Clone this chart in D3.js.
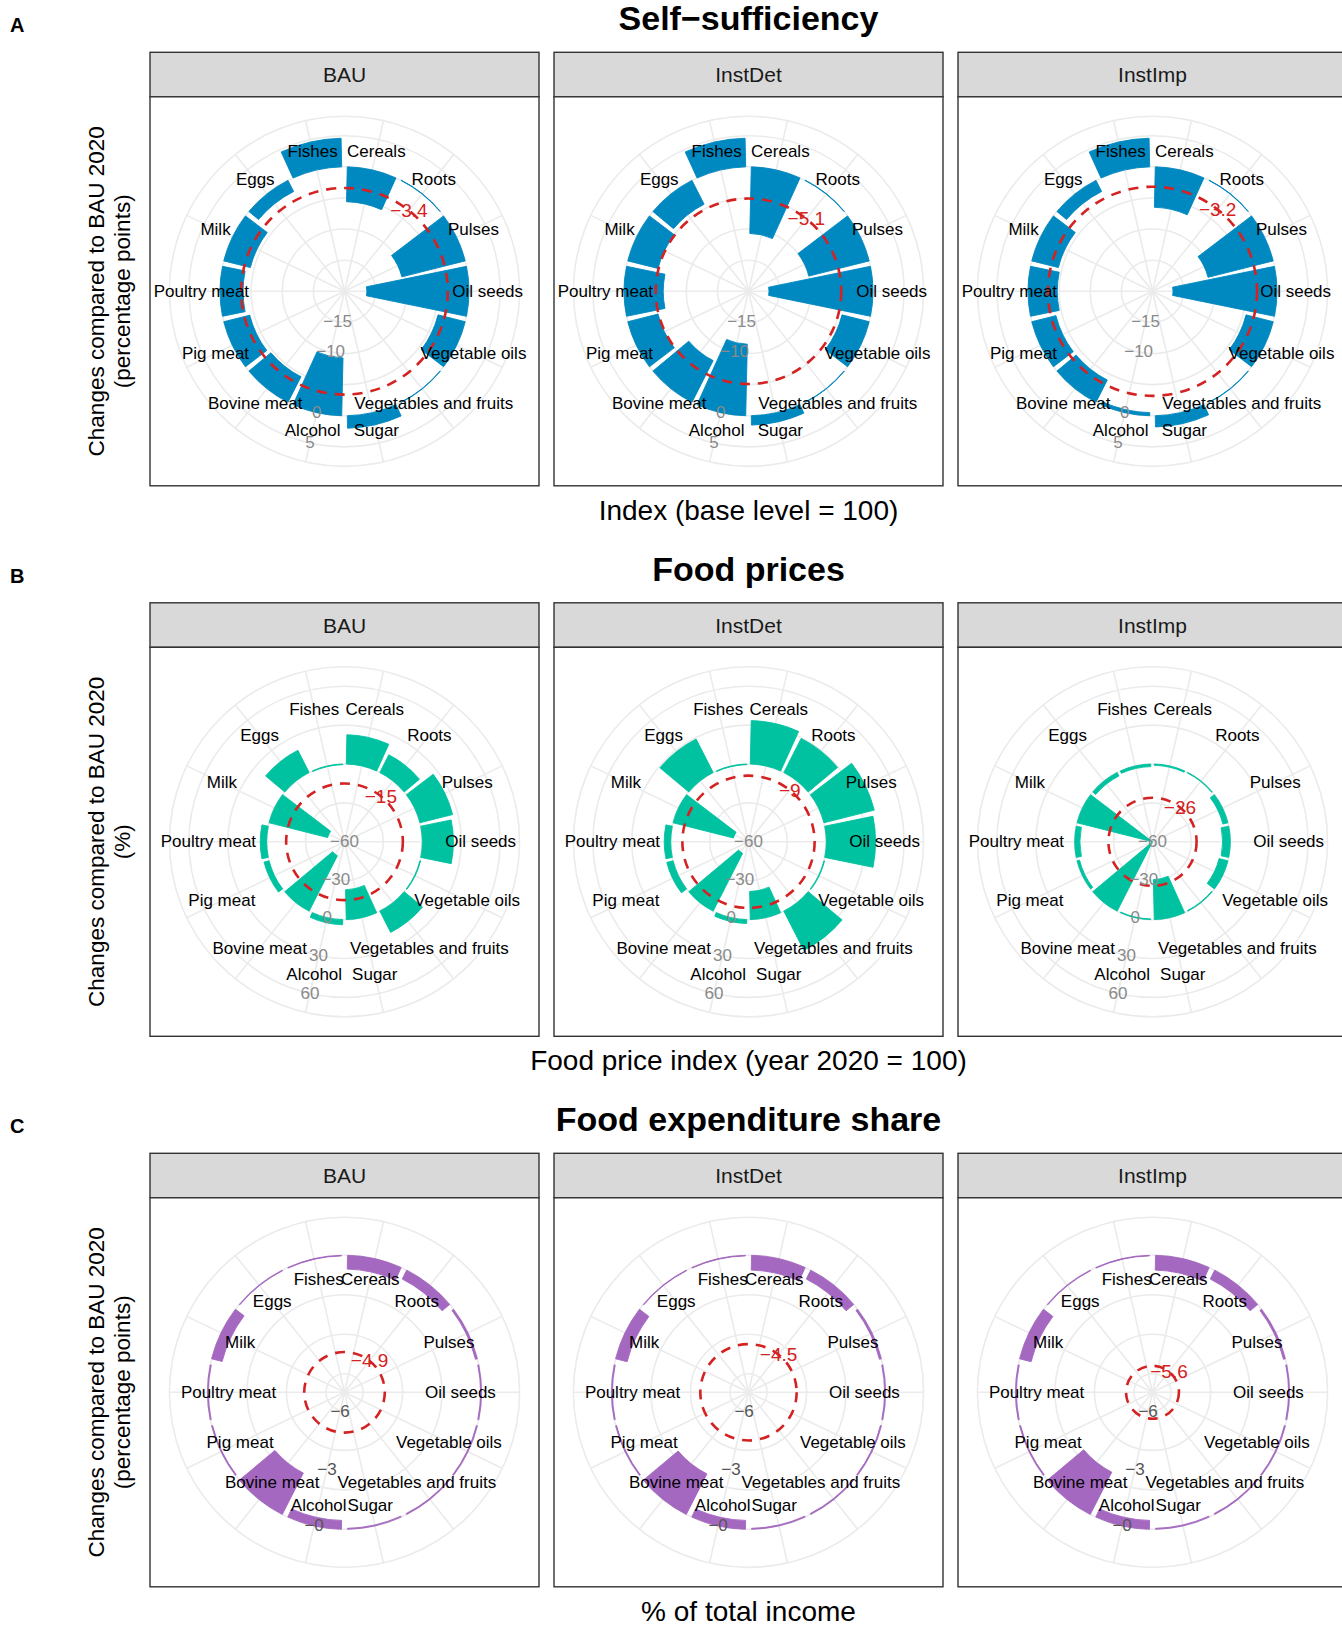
<!DOCTYPE html>
<html>
<head>
<meta charset="utf-8">
<script src="https://cdn.jsdelivr.net/npm/d3@7"></script>
<style>
  html, body { margin: 0; padding: 0; background: #fff; }
  svg { display: block; font-family: "Liberation Sans", Arial, Helvetica, sans-serif; }
</style>
</head>
<body>
<script>
// Polar bar panels: three indicators (rows) x three scenarios (columns).

const categories = ["Cereals", "Roots", "Pulses", "Oil seeds", "Vegetable oils",
  "Vegetables and fruits", "Sugar", "Alcohol", "Bovine meat", "Pig meat",
  "Poultry meat", "Milk", "Eggs", "Fishes"];
const scenarios = ["BAU", "InstDet", "InstImp"];

// A. Self-sufficiency, change vs BAU 2020 (percentage points)
const ssBAU     = [-5.6, 0.05, -10.5, -16.4, -4.5, 0.05, 2.0, -9.3, -4.6, -4.3, -3.7, -4.4, -2.0, 4.6];
const ssInstDet = [-10.7, 0.05, -10.0, -16.7, -4.5, 0.05, 1.5, -11.5, -7.5, -5.0, -6.3, -5.0, -4.3, 4.6];
const ssInstImp = [-6.5, 0.05, -10.8, -16.7, -4.5, 0.05, 1.8, -0.5, -4.0, -4.0, -4.7, -4.4, -2.0, 4.6];
const ssMean    = [-3.4, -5.1, -3.2];
const ssBreaks  = [-15, -10, -5, 0, 5];
const ssTicks   = [-15, -10, 0, 5];

// B. Food prices, change vs BAU 2020 (%)
const priceBAU     = [22.6, 15.3, 26, 24, 0.5, 18.4, -23, 4, -48, 4, 5, -46.6, 19.2, -0.5];
const priceInstDet = [33.5, 29.5, 40, 38, 0.5, 34, -21.6, 3, -50, 5, 5, -48, 29, -0.5];
const priceInstImp = [-1, -0.5, -4, -5.9, -7, -0.5, -30.8, -0.5, -60, -2, -4, -60, -3, -2];
const priceMean    = [-15, -9, -26];
const priceBreaks  = [-30, 0, 30, 60];
const priceTicks   = [-60, -30, 0, 30, 60];

// C. Food expenditure share, change vs BAU 2020 (percentage points)
const expBAU     = [-0.7, -0.5, -0.1, -0.05, -0.05, -0.05, -0.05, -0.45, -2.35, -0.05, -0.05, -0.55, -0.03, -0.03];
const expInstDet = [-0.75, -0.5, -0.1, -0.05, -0.05, -0.05, -0.05, -0.45, -2.3, -0.05, -0.05, -0.6, -0.03, -0.03];
const expInstImp = [-0.75, -0.5, -0.1, -0.05, -0.05, -0.05, -0.05, -0.45, -2.4, -0.05, -0.05, -0.6, -0.03, -0.03];
const expMean    = [-4.9, -4.5, -5.6];
const expBreaks  = [-6, -4, -2, 0];
const expTicks   = [-5.94, -2.95, -0.02];

const rows = [
  { tag: "A", title: "Self\u2212sufficiency", xTitle: "Index (base level = 100)",
    yTitle: ["Changes compared to BAU 2020", "(percentage points)"],
    series: [ssBAU, ssInstDet, ssInstImp], mean: ssMean, domain: [-20, 5],
    breaks: ssBreaks, ticks: ssTicks, labelAt: 3, fill: "#0088C0", tickColor: "#8a8a8a",
    meanFmt: d3.format(".1f") },
  { tag: "B", title: "Food prices", xTitle: "Food price index (year 2020 = 100)",
    yTitle: ["Changes compared to BAU 2020", "(%)"],
    series: [priceBAU, priceInstDet, priceInstImp], mean: priceMean, domain: [-60, 60],
    breaks: priceBreaks, ticks: priceTicks, labelAt: 45, fill: "#00C2A0", tickColor: "#8a8a8a",
    meanFmt: d3.format(".0f") },
  { tag: "C", title: "Food expenditure share", xTitle: "% of total income",
    yTitle: ["Changes compared to BAU 2020", "(percentage points)"],
    series: [expBAU, expInstDet, expInstImp], mean: expMean, domain: [-6.94, 0.94],
    breaks: expBreaks, ticks: expTicks, labelAt: -1.07, fill: "#A468C0", tickColor: "#555555",
    meanFmt: d3.format(".1f") },
];

const W = 1342, H = 1625;
const P = 389;                       // panel side
const panelX = [150, 554, 958];
const rowY = [52.3, 602.8, 1153.3];  // strip tops
const STRIP = 44.5;
const RMAX = 0.4 * P, RGRID = 0.45 * P;
const minus = s => String(s).replace("-", "\u2212");

const svg = d3.select("body").append("svg")
  .attr("width", W).attr("height", H).attr("viewBox", `0 0 ${W} ${H}`);

const theta = d3.scaleBand().domain(categories).range([0, 2 * Math.PI])
  .paddingInner(0.1).paddingOuter(0.05);
const mid = c => theta(c) + theta.bandwidth() / 2;
const px = (a, r) => r * Math.sin(a), py = (a, r) => -r * Math.cos(a);

rows.forEach((row, ri) => {
  const top = rowY[ri];
  const r = d3.scaleLinear().domain(row.domain).range([0, RMAX]);

  svg.append("text").attr("x", 748.5).attr("y", top - 22)
    .attr("text-anchor", "middle").attr("font-size", 34).attr("font-weight", "bold")
    .text(row.title);
  svg.append("text").attr("x", 10).attr("y", top - 20)
    .attr("font-size", 20).attr("font-weight", "bold").text(row.tag);

  const pTop = top + STRIP, cy = pTop + P / 2;
  svg.append("text").attr("x", 748.5).attr("y", pTop + P + 34)
    .attr("text-anchor", "middle").attr("font-size", 28).text(row.xTitle);
  row.yTitle.forEach((t, k) => {
    svg.append("text")
      .attr("transform", `translate(${96.5 + k * 26},${cy}) rotate(-90)`)
      .attr("text-anchor", "middle").attr("dominant-baseline", "central")
      .attr("font-size", 22.5).text(t);
  });

  scenarios.forEach((sc, ci) => {
    const x0 = panelX[ci], cx = x0 + P / 2;
    const values = row.series[ci];

    svg.append("rect").attr("x", x0).attr("y", top).attr("width", P).attr("height", STRIP)
      .attr("fill", "#D9D9D9").attr("stroke", "#333333").attr("stroke-width", 1.4);
    svg.append("text").attr("x", cx).attr("y", top + STRIP / 2)
      .attr("text-anchor", "middle").attr("dominant-baseline", "central")
      .attr("font-size", 21).attr("fill", "#1A1A1A").text(sc);

    svg.append("rect").attr("x", x0).attr("y", pTop).attr("width", P).attr("height", P)
      .attr("fill", "#fff");

    const g = svg.append("g").attr("transform", `translate(${cx},${cy})`);

    // grid: circles at the radial breaks plus the outer ring, spokes at each category
    g.selectAll("circle.grid").data(row.breaks.map(b => r(b)).concat([RGRID])).join("circle")
      .attr("class", "grid").attr("r", d => d)
      .attr("fill", "none").attr("stroke", "#EBEBEB").attr("stroke-width", 1.6);
    g.selectAll("line.spoke").data(categories).join("line").attr("class", "spoke")
      .attr("x1", 0).attr("y1", 0)
      .attr("x2", d => px(mid(d), RGRID)).attr("y2", d => py(mid(d), RGRID))
      .attr("stroke", "#EBEBEB").attr("stroke-width", 1.6);

    const arc = d3.arc();
    g.selectAll("path.bar").data(categories.map((c, i) => ({ c, v: values[i] }))).join("path")
      .attr("class", "bar")
      .attr("d", d => arc({
        innerRadius: r(Math.min(0, d.v)), outerRadius: r(Math.max(0, d.v)),
        startAngle: theta(d.c), endAngle: theta(d.c) + theta.bandwidth()
      }))
      .attr("fill", row.fill).attr("stroke", row.fill).attr("stroke-width", 0.9);

    const m = row.mean[ci];
    g.append("circle").attr("r", r(m)).attr("fill", "none")
      .attr("stroke", "#D42222").attr("stroke-width", 2.6).attr("stroke-dasharray", "10,8");

    const aTick = mid("Alcohol");
    g.selectAll("text.tick").data(row.ticks).join("text").attr("class", "tick")
      .attr("x", d => px(aTick, r(d))).attr("y", d => py(aTick, r(d)))
      .attr("text-anchor", "middle").attr("dominant-baseline", "central")
      .attr("font-size", 17).attr("fill", row.tickColor)
      .text(d => minus(Math.round(d) === 0 && d < 0 ? "-0" : Math.round(d)));

    g.selectAll("text.cat").data(categories).join("text").attr("class", "cat")
      .attr("x", d => px(mid(d), r(row.labelAt))).attr("y", d => py(mid(d), r(row.labelAt)))
      .attr("text-anchor", "middle").attr("dominant-baseline", "central")
      .attr("font-size", 17).attr("fill", "#000").text(d => d);

    const aMean = mid("Roots");
    g.append("text").attr("x", px(aMean, r(m))).attr("y", py(aMean, r(m)))
      .attr("text-anchor", "middle").attr("dominant-baseline", "central")
      .attr("font-size", 19).attr("fill", "#D42222").text(minus(row.meanFmt(m)));

    svg.append("rect").attr("x", x0).attr("y", pTop).attr("width", P).attr("height", P)
      .attr("fill", "none").attr("stroke", "#333333").attr("stroke-width", 1.4);
  });
});
</script>
</body>
</html>
